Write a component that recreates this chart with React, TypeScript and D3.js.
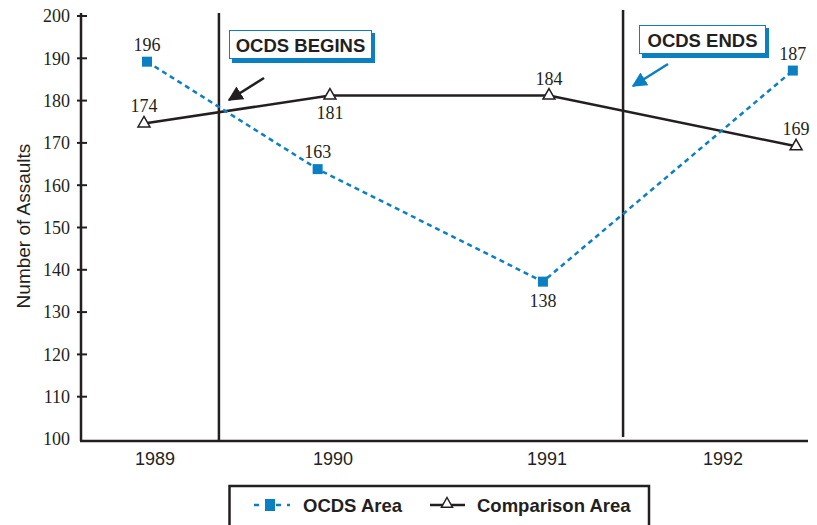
import React from "react";
import * as d3 from "d3";

const years = ["1989", "1990", "1991", "1992"];
// plotted positions (in year-index units) and values
const ocdsX = [0, 0.79, 1.833, 2.99];
const ocdsValues = [189.2, 163.8, 137.2, 187.1];
const ocdsLabels = ["196", "163", "138", "187"];
const ocdsLabelSide = [-1, -1, 1, -1];
const compX = [-0.014, 0.847, 1.861, 3.005];
const compValues = [174.6, 181.2, 181.2, 169.2];
const compLabels = ["174", "181", "184", "169"];
const compLabelSide = [-1, 1, -1, -1];
const yearLabelX = [0.037, 0.861, 1.852, 2.667];
const phaseLinesX = [0.333, 2.204];
const yTicks = [100, 110, 120, 130, 140, 150, 160, 170, 180, 190, 200];

const BLUE = "#0a7fc2";
const DARK = "#231f20";
const SANS = "Liberation Sans, Arial, sans-serif";
const SERIF = "Liberation Serif, Times New Roman, serif";

export default function App() {
  const x = d3.scaleLinear().domain([0, 3]).range([147, 795]);
  const y = d3.scaleLinear().domain([100, 200]).range([439, 16]);
  const axisLeft = 81;
  const axisRight = 808;
  const axisBottom = 441;

  const ocdsLine = d3
    .line<number>()
    .x((_, i) => x(ocdsX[i]))
    .y((d) => y(d))(ocdsValues) as string;
  const compLine = d3
    .line<number>()
    .x((_, i) => x(compX[i]))
    .y((d) => y(d))(compValues) as string;

  const tri = (cx: number, cy: number, s = 6) =>
    `M${cx},${cy - s} L${cx + s},${cy + s * 0.75} L${cx - s},${cy + s * 0.75} Z`;

  return (
    <svg
      width={817}
      height={525}
      style={{ position: "absolute", left: 0, top: 0, background: "#fff" }}
    >
      <defs>
        <marker id="ahBlack" viewBox="0 0 10 10" refX="9" refY="5" markerWidth="6" markerHeight="6" orient="auto">
          <path d="M0,0 L10,5 L0,10 Z" fill={DARK} />
        </marker>
        <marker id="ahBlue" viewBox="0 0 10 10" refX="9" refY="5" markerWidth="6" markerHeight="6" orient="auto">
          <path d="M0,0 L10,5 L0,10 Z" fill={BLUE} />
        </marker>
      </defs>

      {/* y axis title */}
      <text
        transform={`translate(30,226) rotate(-90)`}
        textAnchor="middle"
        fontFamily={SANS}
        fontSize={19}
        fill={DARK}
      >
        Number of Assaults
      </text>

      {/* y ticks */}
      {yTicks.map((t) => (
        <g key={t}>
          {t !== 100 && (
            <line x1={axisLeft - 4} x2={axisLeft + 6} y1={y(t)} y2={y(t)} stroke={DARK} strokeWidth={2} />
          )}
          <text
            x={70}
            y={y(t)}
            dy="0.35em"
            textAnchor="end"
            fontFamily={SERIF}
            fontSize={18}
            fill={DARK}
          >
            {t}
          </text>
        </g>
      ))}

      {/* axes */}
      <line x1={axisLeft} x2={axisLeft} y1={13} y2={axisBottom} stroke={DARK} strokeWidth={2.5} />
      <line x1={axisLeft - 1} x2={axisRight} y1={axisBottom} y2={axisBottom} stroke={DARK} strokeWidth={2.5} />

      {/* year labels */}
      {years.map((yr, i) => (
        <text
          key={yr}
          x={x(yearLabelX[i])}
          y={465}
          textAnchor="middle"
          fontFamily={SANS}
          fontSize={18}
          fill={DARK}
        >
          {yr}
        </text>
      ))}

      {/* phase lines */}
      {phaseLinesX.map((p, i) => (
        <line key={i} x1={x(p)} x2={x(p)} y1={i === 0 ? 13 : 10} y2={i === 0 ? axisBottom : 437} stroke={DARK} strokeWidth={2.5} />
      ))}

      {/* comparison line */}
      <path d={compLine} fill="none" stroke={DARK} strokeWidth={2.5} />
      {/* OCDS line */}
      <path d={ocdsLine} fill="none" stroke={BLUE} strokeWidth={2.5} strokeDasharray="5 4" />

      {/* OCDS markers */}
      {ocdsValues.map((v, i) => (
        <rect key={i} x={x(ocdsX[i]) - 5} y={y(v) - 5} width={10} height={10} fill={BLUE} />
      ))}
      {/* comparison markers */}
      {compValues.map((v, i) => (
        <path key={i} d={tri(x(compX[i]), y(v) - 1)} fill="#fff" stroke={DARK} strokeWidth={1.5} />
      ))}

      {/* data labels */}
      {ocdsValues.map((v, i) => (
        <text
          key={"o" + i}
          x={x(ocdsX[i])}
          y={y(v) + (ocdsLabelSide[i] < 0 ? -11 : 25)}
          textAnchor="middle"
          fontFamily={SERIF}
          fontSize={18}
          fill={DARK}
        >
          {ocdsLabels[i]}
        </text>
      ))}
      {compValues.map((v, i) => (
        <text
          key={"c" + i}
          x={x(compX[i])}
          y={y(v) + (compLabelSide[i] < 0 ? -11 : 23)}
          textAnchor="middle"
          fontFamily={SERIF}
          fontSize={18}
          fill={DARK}
        >
          {compLabels[i]}
        </text>
      ))}

      {/* annotation: OCDS BEGINS */}
      <rect x={232} y={33} width={143} height={30} fill={BLUE} />
      <rect x={229.5} y={30.5} width={142} height={28} fill="#fff" stroke={BLUE} strokeWidth={1} />
      <text x={300.5} y={51.5} textAnchor="middle" fontFamily={SANS} fontWeight="bold" fontSize={18.5} fill={DARK}>
        OCDS BEGINS
      </text>
      <line x1={264} y1={78} x2={229} y2={100} stroke={DARK} strokeWidth={2.5} markerEnd="url(#ahBlack)" />

      {/* annotation: OCDS ENDS */}
      <rect x={642} y={28} width={127} height={30} fill={BLUE} />
      <rect x={639.5} y={25.5} width={126} height={28} fill="#fff" stroke={BLUE} strokeWidth={1} />
      <text x={702.5} y={46.5} textAnchor="middle" fontFamily={SANS} fontWeight="bold" fontSize={18.5} fill={DARK}>
        OCDS ENDS
      </text>
      <line x1={668} y1={64} x2={633} y2={86} stroke={BLUE} strokeWidth={2.5} markerEnd="url(#ahBlue)" />

      {/* legend */}
      <rect x={229.5} y={486} width={419.5} height={50} fill="#fff" stroke={DARK} strokeWidth={2.5} />
      <line x1={254} x2={290} y1={505} y2={505} stroke={BLUE} strokeWidth={2.5} strokeDasharray="5 6" />
      <rect x={265} y={499} width={10} height={12} fill={BLUE} />
      <text x={303} y={512} fontFamily={SANS} fontWeight="bold" fontSize={18.5} fill={DARK}>
        OCDS Area
      </text>
      <line x1={430} x2={465} y1={505} y2={505} stroke={DARK} strokeWidth={2.5} />
      <path d={tri(447, 503, 5.5)} fill="#fff" stroke={DARK} strokeWidth={1.5} />
      <text x={477} y={512} fontFamily={SANS} fontWeight="bold" fontSize={18.5} fill={DARK}>
        Comparison Area
      </text>
    </svg>
  );
}
